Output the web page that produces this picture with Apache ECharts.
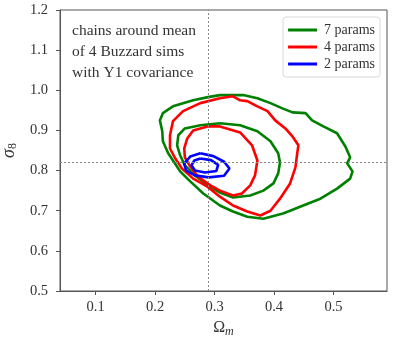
<!DOCTYPE html>
<html>
<head>
<meta charset="utf-8">
<script src="https://cdn.jsdelivr.net/npm/echarts@6/dist/echarts.min.js"></script>
<style>
  html, body { margin: 0; padding: 0; background: #fff; }
  #chart { width: 399px; height: 342px; }
</style>
</head>
<body>
<div id="chart"></div>
<script>
// contour traces, [Omega_m, sigma_8]
const green95 = [
  [0.309, 0.988], [0.348, 0.988], [0.372, 0.980], [0.394, 0.968], [0.414, 0.955], [0.431, 0.945],
  [0.453, 0.943], [0.464, 0.925], [0.483, 0.910], [0.506, 0.893], [0.520, 0.860], [0.528, 0.833],
  [0.523, 0.818], [0.532, 0.798], [0.528, 0.780], [0.506, 0.755], [0.478, 0.730], [0.449, 0.713],
  [0.427, 0.700], [0.415, 0.693], [0.382, 0.680], [0.355, 0.685], [0.331, 0.698], [0.309, 0.713],
  [0.281, 0.743], [0.259, 0.773], [0.242, 0.798], [0.230, 0.825], [0.222, 0.843], [0.213, 0.873],
  [0.212, 0.898], [0.208, 0.925], [0.213, 0.943], [0.230, 0.960], [0.264, 0.975], [0.289, 0.983],
  [0.309, 0.988]
];
const green68 = [
  [0.309, 0.918], [0.343, 0.913], [0.372, 0.898], [0.394, 0.873], [0.407, 0.843], [0.410, 0.820],
  [0.407, 0.793], [0.399, 0.768], [0.382, 0.750], [0.360, 0.738], [0.331, 0.733], [0.309, 0.745],
  [0.289, 0.763], [0.267, 0.788], [0.250, 0.813], [0.242, 0.838], [0.237, 0.863], [0.239, 0.888],
  [0.250, 0.905], [0.276, 0.913], [0.309, 0.918]
];
const red95 = [
  [0.309, 0.980], [0.331, 0.985], [0.343, 0.975], [0.355, 0.973], [0.372, 0.960], [0.389, 0.948],
  [0.402, 0.925], [0.419, 0.905], [0.431, 0.885], [0.441, 0.863], [0.439, 0.843], [0.436, 0.808],
  [0.427, 0.768], [0.410, 0.730], [0.394, 0.700], [0.377, 0.688], [0.355, 0.698], [0.331, 0.713],
  [0.309, 0.735], [0.288, 0.760], [0.264, 0.780], [0.245, 0.805], [0.234, 0.830], [0.225, 0.855],
  [0.225, 0.888], [0.230, 0.923], [0.247, 0.948], [0.276, 0.968], [0.309, 0.980]
];
const red68 = [
  [0.288, 0.910], [0.309, 0.910], [0.343, 0.895], [0.363, 0.863], [0.372, 0.825], [0.368, 0.788],
  [0.360, 0.763], [0.346, 0.743], [0.331, 0.738], [0.309, 0.750], [0.293, 0.763], [0.272, 0.785],
  [0.259, 0.810], [0.250, 0.833], [0.249, 0.855], [0.254, 0.880], [0.264, 0.900], [0.288, 0.910]
];
const blue95 = [
  [0.276, 0.843], [0.298, 0.836], [0.316, 0.822], [0.325, 0.805], [0.316, 0.787], [0.290, 0.783],
  [0.267, 0.788], [0.252, 0.800], [0.249, 0.818], [0.259, 0.835], [0.276, 0.843]
];
const blue68 = [
  [0.276, 0.830], [0.294, 0.826], [0.306, 0.814], [0.303, 0.799], [0.284, 0.795], [0.267, 0.800],
  [0.261, 0.813], [0.266, 0.825], [0.276, 0.830]
];

const seriesNames = ['7 params', '4 params', '2 params'];
const seriesColors = ['#008000', '#ff0000', '#0000ff'];
const xTicks = [0.1, 0.2, 0.3, 0.4, 0.5];
const fiducialOm = 0.286;
const fiducialS8 = 0.82;
const noteLines = ['chains around mean', 'of 4 Buzzard sims', 'with Y1 covariance'];

const FONT = '"Liberation Serif", "DejaVu Serif", serif';
const chart = echarts.init(document.getElementById('chart'));

function contour(name, color, data, extra) {
  return Object.assign({
    name, type: 'line', data, symbol: 'none', smooth: false,
    lineStyle: { color, width: 2.6 }, itemStyle: { color },
    silent: true, animation: false,
  }, extra || {});
}

chart.setOption({
  animation: false,
  backgroundColor: '#fff',
  grid: {
    left: 60, top: 10, right: 12, bottom: 51, containLabel: false, outerBoundsMode: 'none',
    show: true, borderColor: '#555', borderWidth: 1, backgroundColor: 'transparent',
  },
  legend: {
    data: seriesNames,
    orient: 'vertical', right: 19, top: 17,
    icon: 'rect', itemWidth: 29, itemHeight: 3, itemGap: 3,
    padding: [6, 5, 6, 5],
    borderColor: '#d8d8d8', borderWidth: 1, borderRadius: 3, backgroundColor: '#fff',
    textStyle: { fontFamily: FONT, fontSize: 14, color: '#333', padding: [0, 0, 0, 2] },
  },
  xAxis: {
    type: 'value', min: 0.04, max: 0.59,
    name: '{o|Ω}{m|m}', nameLocation: 'middle', nameGap: 26,
    nameTextStyle: { fontFamily: FONT, color: '#333', rich: {
      o: { fontFamily: FONT, fontSize: 16, color: '#333' },
      m: { fontFamily: FONT, fontSize: 12, fontStyle: 'italic', color: '#333', padding: [7, 0, 0, 0] },
    } },
    axisLine: { show: true, lineStyle: { color: '#555', width: 1 } },
    axisTick: { show: true, inside: false, length: 4, lineStyle: { color: '#555' }, customValues: xTicks },
    axisLabel: { fontFamily: FONT, fontSize: 14.5, color: '#333', margin: 9, customValues: xTicks,
      formatter: (v) => v.toFixed(1) },
    splitLine: { show: false },
  },
  yAxis: {
    type: 'value', min: 0.5, max: 1.2, interval: 0.1,
    name: '{s|σ}{n|8}', nameLocation: 'middle', nameGap: 37,
    nameTextStyle: { fontFamily: FONT, color: '#333', rich: {
      s: { fontFamily: FONT, fontSize: 18, fontStyle: 'italic', color: '#333' },
      n: { fontFamily: FONT, fontSize: 12, color: '#333', padding: [8, 0, 0, 0] },
    } },
    axisLine: { show: true, lineStyle: { color: '#555', width: 1 } },
    axisTick: { show: true, inside: false, length: 4, lineStyle: { color: '#555' } },
    axisLabel: { fontFamily: FONT, fontSize: 14.5, color: '#333', margin: 12, formatter: (v) => v.toFixed(1) },
    splitLine: { show: false },
  },
  graphic: [{
    type: 'text', left: 72, top: 20, silent: true,
    style: { text: noteLines.join('\n'), fontFamily: FONT, fontSize: 15.5, lineHeight: 21, fill: '#333' },
  }],
  series: [
    contour(seriesNames[0], seriesColors[0], green95, {
      markLine: {
        silent: true, symbol: 'none', label: { show: false }, animation: false,
        lineStyle: { color: '#888', type: [2, 2], width: 1 },
        data: [{ xAxis: fiducialOm }, { yAxis: fiducialS8 }],
      },
    }),
    contour(seriesNames[0], seriesColors[0], green68),
    contour(seriesNames[1], seriesColors[1], red95),
    contour(seriesNames[1], seriesColors[1], red68),
    contour(seriesNames[2], seriesColors[2], blue95),
    contour(seriesNames[2], seriesColors[2], blue68),
  ],
});
</script>
</body>
</html>
